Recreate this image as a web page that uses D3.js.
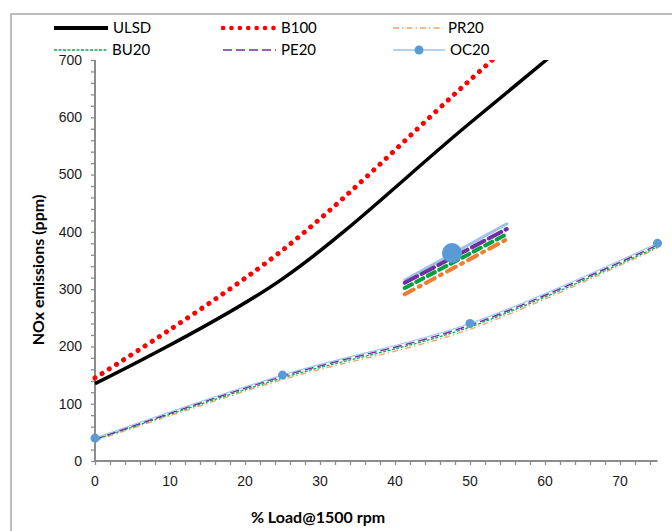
<!DOCTYPE html>
<html><head><meta charset="utf-8">
<script src="https://cdn.jsdelivr.net/npm/d3@7"></script>
<style>body{margin:0;background:#fff}svg{display:block;font-family:Lato,"Open Sans",sans-serif}</style>
</head><body><svg id="c" width="672" height="531"></svg>
<script>
// ---- data ----
const loads = [0, 25, 50, 75];
const ULSD = [135, 318, 590, 860];
const B100 = [145, 368, 665, 960];
const PR20 = [35, 142, 230, 372];
const BU20 = [37, 145, 234, 374];
const PE20 = [38, 148, 237, 377];
const OC20 = [40, 150, 240, 380];
const yTicks = [0, 100, 200, 300, 400, 500, 600, 700];
const xTicks = [0, 10, 20, 30, 40, 50, 60, 70];
const seriesNames = ["ULSD", "B100", "PR20", "BU20", "PE20", "OC20"];
// stray inset (copy of legend-like lines in the plot area), data units
const insetX = [41.3, 54.9];
const insetOC = [316, 414];
const insetPE = [311, 405];
const insetBU = [302, 396];
const insetPR = [291, 387];
const insetMarker = [47.6, 363];

const svg = d3.select("#c");
const x = d3.scaleLinear().domain([0, 75]).range([95, 657.5]);
const y = d3.scaleLinear().domain([0, 700]).range([461, 60]);

// frame
svg.append("rect").attr("x", 11).attr("y", 14).attr("width", 700).attr("height", 600)
  .attr("fill", "none").attr("stroke", "#a6a6a6").attr("stroke-width", 1.5);

const styles = {
  ULSD: {stroke: "#000", width: 3.5, dash: null},
  B100: {stroke: "#ff0000", width: 5, dash: "0.1 8.4", cap: "round"},
  PR20: {stroke: "#f2a26a", width: 1.3, dash: "6 3 1.5 3"},
  BU20: {stroke: "#00b050", width: 1.3, dash: "3 1.5"},
  PE20: {stroke: "#7030a0", width: 1.5, dash: "9 4"},
  OC20: {stroke: "#9dc3e6", width: 1.2, dash: null}
};
const dataMap = {ULSD, B100, PR20, BU20, PE20, OC20};

svg.append("defs").append("clipPath").attr("id", "clip")
  .append("rect").attr("x", 90).attr("y", 60).attr("width", 580).attr("height", 410);

// axes
const gx = svg.append("g").attr("transform", "translate(0,461)");
gx.call(d3.axisBottom(x).tickValues(d3.range(0, 76, 2)).tickSize(4).tickFormat(""));
gx.call(g => g.select(".domain").remove());
gx.append("line").attr("x1", x(0)).attr("x2", x(75)).attr("stroke", "#8c8c8c").attr("stroke-width", 2);
gx.selectAll(".tick line").attr("stroke", "#8c8c8c").attr("stroke-width", 1.3);
gx.selectAll(".xl").data(xTicks).enter().append("text")
  .attr("x", d => x(d)).attr("y", 25).attr("text-anchor", "middle")
  .attr("font-size", 14).attr("fill", "#1a1a1a").text(d => d);

const gy = svg.append("g").attr("transform", "translate(95,0)");
gy.call(d3.axisLeft(y).tickValues(d3.range(0, 701, 20)).tickSize(4).tickFormat(""));
gy.call(g => g.select(".domain").remove());
gy.append("line").attr("y1", y(0)).attr("y2", y(700)).attr("stroke", "#8c8c8c").attr("stroke-width", 2);
gy.selectAll(".tick line").attr("stroke", "#8c8c8c").attr("stroke-width", 1.3);
gy.selectAll(".yl").data(yTicks).enter().append("text")
  .attr("x", -13).attr("y", d => y(d)).attr("dy", "0.35em").attr("text-anchor", "end")
  .attr("font-size", 14).attr("fill", "#1a1a1a").text(d => d);

// titles
svg.append("text").attr("x", 318).attr("y", 523).attr("text-anchor", "middle")
  .attr("font-size", 16).attr("font-weight", "bold").attr("fill", "#000").text("% Load@1500 rpm");
svg.append("text").attr("transform", "translate(44,270) rotate(-90)").attr("text-anchor", "middle")
  .attr("font-size", 16).attr("font-weight", "bold").attr("fill", "#000").text("NOx emissions (ppm)");

// series
const line = d3.line().x(d => x(d[0])).y(d => y(d[1])).curve(d3.curveCatmullRom.alpha(0));
const plot = svg.append("g").attr("clip-path", "url(#clip)");
["PR20", "BU20", "PE20", "OC20", "ULSD", "B100"].forEach(name => {
  const s = styles[name];
  plot.append("path").datum(loads.map((l, i) => [l, dataMap[name][i]]))
    .attr("d", line).attr("fill", "none").attr("stroke", s.stroke)
    .attr("stroke-width", s.width).attr("stroke-dasharray", s.dash)
    .attr("stroke-linecap", s.cap || "butt");
});
plot.selectAll(".m").data(loads.map((l, i) => [l, OC20[i]])).enter().append("circle")
  .attr("cx", d => x(d[0])).attr("cy", d => y(d[1])).attr("r", 4.5).attr("fill", "#5b9bd5");

// inset artifact
const inset = [["OC20", insetOC], ["PE20", insetPE], ["BU20", insetBU], ["PR20", insetPR]];
const insetStyle = {
  OC20: {w: 3, d: null, c: "#9dc3e6"},
  PE20: {w: 4, d: "14 5", c: "#7030a0"},
  BU20: {w: 4, d: "8 5", c: "#00a040"},
  PR20: {w: 4, d: "10 6 2 6", c: "#ed7d31"}
};
inset.forEach(([name, ys]) => {
  svg.append("line").attr("x1", x(insetX[0])).attr("x2", x(insetX[1]))
    .attr("y1", y(ys[0])).attr("y2", y(ys[1]))
    .attr("stroke", insetStyle[name].c).attr("stroke-width", insetStyle[name].w)
    .attr("stroke-dasharray", insetStyle[name].d).attr("stroke-linecap", "round");
});
svg.append("circle").attr("cx", x(insetMarker[0])).attr("cy", y(insetMarker[1])).attr("r", 10).attr("fill", "#5b9bd5");

// legend
const legPos = [[54, 28], [223, 28], [393, 28], [54, 50], [223, 50], [393, 50]];
const legLen = [54, 53, 50, 53, 53, 52];
const leg = svg.append("g");
seriesNames.forEach((name, i) => {
  const [lx, ly] = legPos[i];
  const s = styles[name];
  leg.append("line").attr("x1", lx).attr("x2", lx + legLen[i]).attr("y1", ly).attr("y2", ly)
    .attr("stroke", s.stroke).attr("stroke-width", name === "ULSD" ? 4 : (name === "B100" ? 4.5 : 1.3))
    .attr("stroke-dasharray", name === "B100" ? "0.1 8.3" : s.dash)
    .attr("stroke-linecap", s.cap || "butt");
  if (name === "OC20") leg.append("circle").attr("cx", lx + legLen[i] / 2).attr("cy", ly).attr("r", 4.5).attr("fill", "#5b9bd5");
  leg.append("text").attr("x", lx + legLen[i] + 5).attr("y", ly).attr("dy", "0.35em")
    .attr("font-size", 15).attr("fill", "#000").text(name);
});
</script></body></html>
